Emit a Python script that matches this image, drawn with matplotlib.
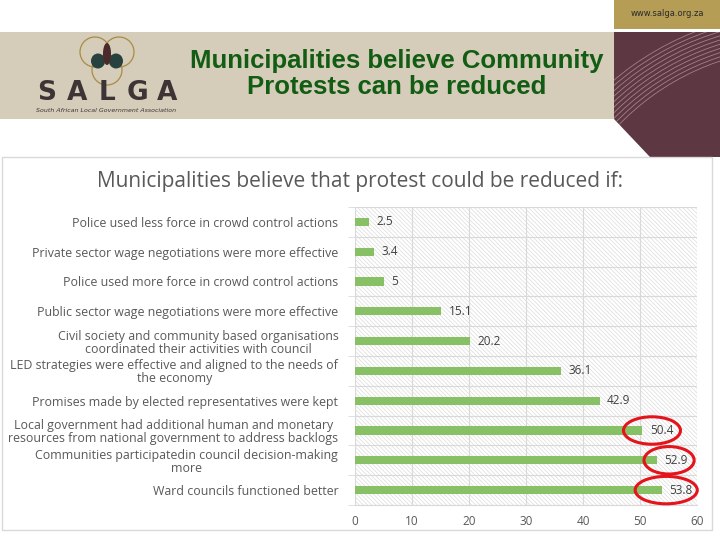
import matplotlib
matplotlib.use("Agg")
import matplotlib.pyplot as plt
from matplotlib.patches import Rectangle, Ellipse, Polygon, Arc
import numpy as np

plt.rcParams["hatch.linewidth"] = 0.5

categories = [
    "Police used less force in crowd control actions",
    "Private sector wage negotiations were more effective",
    "Police used more force in crowd control actions",
    "Public sector wage negotiations were more effective",
    "Civil society and community based organisations\ncoordinated their activities with council",
    "LED strategies were effective and aligned to the needs of\nthe economy",
    "Promises made by elected representatives were kept",
    "Local government had additional human and monetary\nresources from national government to address backlogs",
    "Communities participatedin council decision-making\nmore",
    "Ward councils functioned better",
]
values = [2.5, 3.4, 5, 15.1, 20.2, 36.1, 42.9, 50.4, 52.9, 53.8]
value_labels = ["2.5", "3.4", "5", "15.1", "20.2", "36.1", "42.9", "50.4", "52.9", "53.8"]
x_ticks = [0, 10, 20, 30, 40, 50, 60]
circled = [7, 8, 9]

W, H = 720, 540
fig = plt.figure(figsize=(7.2, 5.4), dpi=100)
fig.patch.set_facecolor("white")

def fx(px):
    return px / W

def fy(py):
    return 1 - py / H

def box(x0, y0, x1, y1, **kw):
    fig.add_artist(Rectangle((fx(x0), fy(y1)), (x1 - x0) / W, (y1 - y0) / H,
                             transform=fig.transFigure, zorder=-5, **kw))

# header band and decorations
box(0, 32, 614, 119, facecolor="#d5cdb9", edgecolor="none")
box(614, 0, 720, 29, facecolor="#b59d56", edgecolor="none")
maroon = Polygon([(fx(614), fy(32)), (fx(720), fy(32)), (fx(720), fy(157)),
                  (fx(650), fy(157)), (fx(614), fy(119))], closed=True,
                 transform=fig.transFigure, facecolor="#5d3742", edgecolor="none",
                 zorder=-5)
fig.add_artist(maroon)
# faint wave lines in the maroon panel
for k in range(10):
    r = 252 + 4 * k
    arc = Arc((fx(800), fy(300)), 2 * r / W, 2 * r / H, theta1=100, theta2=140,
              transform=fig.transFigure, color="#b89aa2", lw=0.6, alpha=0.75, zorder=-4)
    fig.add_artist(arc)
    arc.set_clip_path(maroon)
fig.text(fx(667), fy(14), "www.salga.org.za", fontsize=6, color="#2a2a2a",
         ha="center", va="center")

# logo
for cx, cy in [(95, 52), (119, 52), (107, 70)]:
    fig.add_artist(Ellipse((fx(cx), fy(cy)), 30 / W, 30 / H, transform=fig.transFigure,
                           facecolor="none", edgecolor="#a88c45", lw=0.9))
fig.add_artist(Ellipse((fx(98), fy(61)), 14 / W, 15 / H, transform=fig.transFigure,
                       facecolor="#27413f", edgecolor="none"))
fig.add_artist(Ellipse((fx(116), fy(61)), 14 / W, 15 / H, transform=fig.transFigure,
                       facecolor="#27413f", edgecolor="none"))
fig.add_artist(Ellipse((fx(107), fy(54)), 8 / W, 22 / H, transform=fig.transFigure,
                       facecolor="#4a2a2a", edgecolor="none"))
for k, ch in enumerate("SALGA"):
    fig.text(fx(47 + 30 * k), fy(93), ch, fontsize=19, fontweight="bold",
             color="#3d3535", ha="center", va="center", family="DejaVu Sans")
fig.text(fx(106), fy(110), "South African Local Government Association", fontsize=4.5,
         style="italic", color="#3d3535", ha="center", va="center")

fig.text(fx(397), fy(74), "Municipalities believe Community\nProtests can be reduced",
         fontsize=18.5, fontweight="bold", color="#135c13", ha="center", va="center",
         family="Liberation Sans", linespacing=1.1)

# chart box
box(2, 157, 712, 530, facecolor="white", edgecolor="#d9d9d9", lw=1)
fig.text(fx(360), fy(181), "Municipalities believe that protest could be reduced if:",
         fontsize=15, color="#595959", ha="center", va="center", family="Open Sans")

ax = fig.add_axes([fx(355), fy(505), fx(697 - 355), (505 - 207) / H])
ax.set_xlim(0, 60)
ax.set_ylim(len(values) - 0.5, -0.5)
ax.add_patch(Rectangle((0, -0.5), 60, len(values), facecolor="white", edgecolor="#dcdcdc",
                       hatch="\\" * 8, lw=0, zorder=0))

y = np.arange(len(values))
ax.barh(y, values, height=0.28, color="#88c065", zorder=3)
for i, (v, lab) in enumerate(zip(values, value_labels)):
    ax.text(v + 1.3, i, lab, va="center", ha="left", fontsize=8.5, color="#404040",
            family="Open Sans", zorder=4)

ax.set_yticks(y)
ax.set_yticklabels(categories, fontsize=8.9, color="#595959", family="Open Sans",
                   multialignment="center", linespacing=1.0)
ax.set_yticks(np.arange(-0.5, len(values), 1), minor=True)
ax.tick_params(axis="y", which="major", length=0, pad=12)
ax.tick_params(axis="y", which="minor", length=5, color="#d9d9d9")
ax.set_xticks(x_ticks)
ax.tick_params(axis="x", length=0, labelsize=8.5, labelcolor="#595959", pad=7)
for lab in ax.get_xticklabels():
    lab.set_family("Open Sans")
ax.grid(axis="y", which="minor", color="#d9d9d9", lw=0.8, zorder=1)
ax.grid(axis="x", which="major", color="#d9d9d9", lw=0.8, zorder=1)
for s in ["top", "right", "left"]:
    ax.spines[s].set_visible(False)
ax.spines["bottom"].set_color("#d9d9d9")

# red highlight rings
ring_x = {7: 52.1, 8: 55.1, 9: 54.6}
ring_w = {7: 10.0, 8: 8.8, 9: 10.9}
for i in circled:
    ax.add_patch(Ellipse((ring_x[i], i), ring_w[i], 0.92, facecolor="none",
                         edgecolor="#e3141b", lw=2.2, zorder=5, clip_on=False))

fig.savefig("out.png", dpi=100)
